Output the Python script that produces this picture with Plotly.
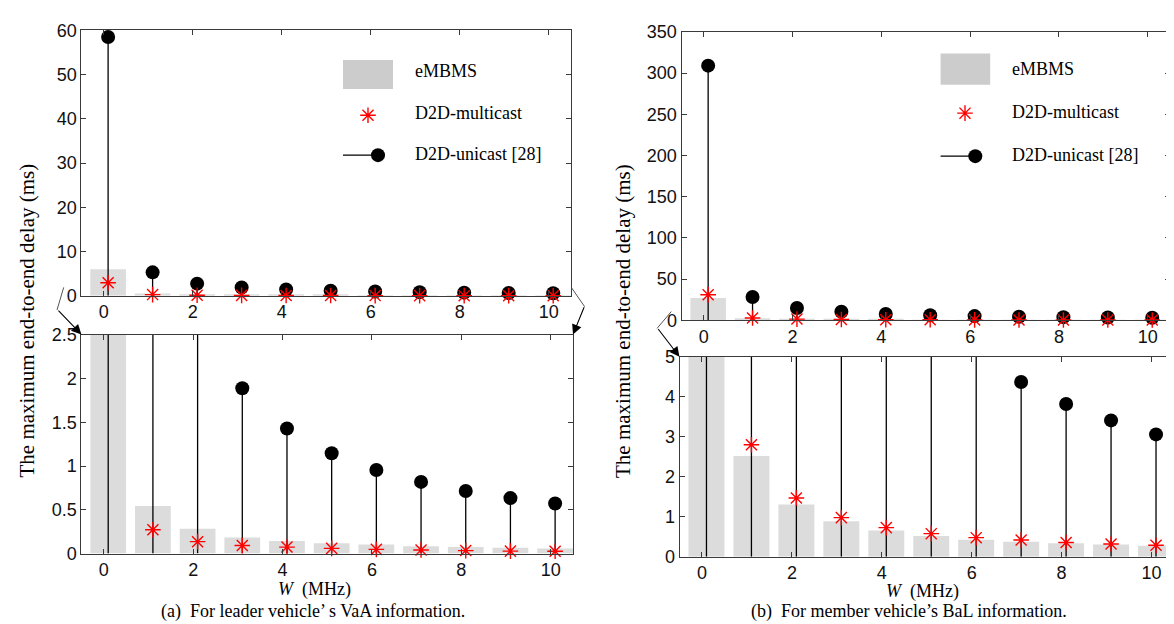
import plotly.graph_objects as go

# ---------------- data ----------------
W = [0.1, 1.1, 2.1, 3.1, 4.1, 5.1, 6.1, 7.1, 8.1, 9.1, 10.1]
x_ticks = [0, 2, 4, 6, 8, 10]

vaa_embms = [6.0, 0.545, 0.284, 0.184, 0.144, 0.118, 0.103, 0.085, 0.074, 0.066, 0.059]
vaa_multicast = [2.95, 0.273, 0.136, 0.092, 0.074, 0.059, 0.048, 0.041, 0.034, 0.028, 0.027]
vaa_unicast = [58.5, 5.3, 2.75, 1.89, 1.43, 1.147, 0.955, 0.819, 0.715, 0.634, 0.572]

bal_embms = [27.0, 2.52, 1.31, 0.89, 0.66, 0.52, 0.43, 0.38, 0.34, 0.31, 0.28]
bal_multicast = [30.9, 2.80, 1.47, 0.98, 0.73, 0.58, 0.48, 0.42, 0.36, 0.32, 0.29]
bal_unicast = [309.0, 28.2, 15.0, 10.3, 7.6, 6.1, 5.1, 4.37, 3.82, 3.41, 3.06]

series_names = ["eMBMS", "D2D-multicast", "D2D-unicast [28]"]
y_title = "The maximum end-to-end delay (ms)"
x_title = "<i>W</i>  (MHz)"
captions = ["(a)  For leader vehicle’ s VaA information.",
            "(b)  For member vehicle’s BaL information."]

# ---------------- style ----------------
FW, FH = 1174, 624
BAR_COLOR = "#dcdcdc"
LEG_PATCH = "#cccccc"
AXIS_COLOR = "#3a3a3a"
TICK_FONT = dict(family="Liberation Sans, Arial, sans-serif", size=18, color="#111")
SERIF = "Liberation Serif, Times New Roman, serif"


def px(xp):
    return xp / FW


def py(yp):
    return 1 - yp / FH


fig = go.Figure()

# panels: (xaxis id, yaxis id, data, y range, y dtick)
panels = [
    ("x", "y", (vaa_embms, vaa_multicast, vaa_unicast), [0, 60], 10),
    ("x2", "y2", (vaa_embms, vaa_multicast, vaa_unicast), [0, 2.5], 0.5),
    ("x3", "y3", (bal_embms, bal_multicast, bal_unicast), [0, 350], 50),
    ("x4", "y4", (bal_embms, bal_multicast, bal_unicast), [0, 5], 1),
]

for xa, ya, (emb, mul, uni), yr, dt in panels:
    fig.add_trace(go.Bar(x=W, y=emb, width=0.8, marker=dict(color=BAR_COLOR, line=dict(width=0)),
                         xaxis=xa, yaxis=ya, showlegend=False, name=series_names[0]))
    # stems for D2D-unicast
    sx, sy = [], []
    for xv, yv in zip(W, uni):
        sx += [xv, xv, None]
        sy += [0, yv, None]
    fig.add_trace(go.Scatter(x=sx, y=sy, mode="lines", line=dict(color="black", width=1.3),
                             xaxis=xa, yaxis=ya, showlegend=False, hoverinfo="skip"))
    fig.add_trace(go.Scatter(x=W, y=uni, mode="markers", cliponaxis=False,
                             marker=dict(color="black", size=14, line=dict(width=0)),
                             xaxis=xa, yaxis=ya, showlegend=False, name=series_names[2]))
    fig.add_trace(go.Scatter(x=W, y=mul, mode="markers", cliponaxis=False,
                             marker=dict(symbol="asterisk-open", size=13, color="red",
                                         line=dict(color="red", width=1.4)),
                             xaxis=xa, yaxis=ya, showlegend=False, name=series_names[1]))

# axis domains (in pixels)
doms = [
    ("", (73.4, 563.0), (12.7, 287.0)),
    ("2", (73.4, 565.0), (327.3, 553.3)),
    ("3", (673.5, 1162.0), (14.3, 312.3)),
    ("4", (671.5, 1166.0), (350.0, 556.7)),
]
layout = {}
for (k, (x0, x1), (y0, y1)), (_, _, _, yr, dt) in zip(doms, panels):
    common = dict(showline=True, linecolor=AXIS_COLOR, linewidth=1, mirror="ticks",
                  ticks="inside", ticklen=5, tickcolor=AXIS_COLOR, tickfont=TICK_FONT,
                  showgrid=False, zeroline=False, fixedrange=True)
    layout["xaxis" + k] = dict(domain=[px(x0), px(x1)], anchor="y" + k, range=[-0.5, 10.5],
                               tickvals=x_ticks, ticklabelstandoff=0, **common)
    layout["yaxis" + k] = dict(domain=[py(y1), py(y0)], anchor="x" + k, range=yr, dtick=dt,
                               tick0=0, **common)

# overlay pixel axis for legend glyphs
layout["xaxis5"] = dict(domain=[0, 1], range=[0, FW], visible=False, fixedrange=True, anchor="y5")
layout["yaxis5"] = dict(domain=[0, 1], range=[FH, 0], visible=False, fixedrange=True, anchor="x5")

fig.update_layout(**layout)

# legends (manual, matching MATLAB-style legend boxes)
legends = [
    dict(patch=(335, 43.3, 385, 73.3), star=(360, 100.5), line=(335, 370, 141.7),
         tx=405, ty=(55, 98, 141)),
    dict(patch=(932.6, 36.7, 982.2, 69.0), star=(957, 98.3), line=(932.6, 967.3, 142.7),
         tx=1001.5, ty=(53, 97, 142)),
]
shapes = []
annotations = []
for lg in legends:
    x0, y0, x1, y1 = lg["patch"]
    shapes.append(dict(type="rect", xref="paper", yref="paper", x0=px(x0), x1=px(x1),
                       y0=py(y1), y1=py(y0), fillcolor=LEG_PATCH, line=dict(width=0)))
    lx0, lx1, ly = lg["line"]
    shapes.append(dict(type="line", xref="paper", yref="paper", x0=px(lx0), x1=px(lx1),
                       y0=py(ly), y1=py(ly), line=dict(color="black", width=1.3)))
    fig.add_trace(go.Scatter(x=[lx1], y=[ly], mode="markers", xaxis="x5", yaxis="y5",
                             marker=dict(color="black", size=14), showlegend=False,
                             hoverinfo="skip", cliponaxis=False))
    fig.add_trace(go.Scatter(x=[lg["star"][0]], y=[lg["star"][1]], mode="markers",
                             xaxis="x5", yaxis="y5", showlegend=False, hoverinfo="skip",
                             cliponaxis=False,
                             marker=dict(symbol="asterisk-open", size=13, color="red",
                                         line=dict(color="red", width=1.4))))
    for name, ty in zip(series_names, lg["ty"]):
        annotations.append(dict(text=name, xref="paper", yref="paper", x=px(lg["tx"]), y=py(ty),
                                xanchor="left", yanchor="middle", showarrow=False,
                                font=dict(family=SERIF, size=18, color="black")))

# zoom brackets between top and bottom panels
brackets = [
    ((55.7, 278.3), (49.0, 301.7), (73.4, 327.0)),
    ((563.3, 278.3), (576.7, 298.3), (565.0, 327.0)),
    ((663.3, 303.3), (649.0, 320.7), (671.5, 350.0)),
    ((1165.0, 305.0), (1182.0, 322.0), (1166.0, 350.0)),
]
for (ax0, ay0), (bx, by), (tx, ty) in brackets:
    shapes.append(dict(type="line", xref="paper", yref="paper", x0=px(ax0), y0=py(ay0),
                       x1=px(bx), y1=py(by), line=dict(color="#555", width=1)))
    annotations.append(dict(text="", xref="paper", yref="paper", x=px(tx), y=py(ty),
                            ax=bx - tx, ay=by - ty, axref="pixel", ayref="pixel",
                            showarrow=True, arrowhead=2, arrowsize=1.8, arrowwidth=1.1,
                            arrowcolor="black"))

# axis / caption texts
for cx, cy in ((18.5, 313), (615, 313)):
    annotations.append(dict(text=y_title, xref="paper", yref="paper", x=px(cx), y=py(cy),
                            textangle=-90, showarrow=False, xanchor="center", yanchor="middle",
                            font=dict(family=SERIF, size=21, color="black")))
for cx, cy in ((306, 590), (914, 593)):
    annotations.append(dict(text=x_title, xref="paper", yref="paper", x=px(cx), y=py(cy),
                            showarrow=False, xanchor="center", yanchor="middle",
                            font=dict(family=SERIF, size=18, color="black")))
for cx, cap in zip((305, 901), captions):
    annotations.append(dict(text=cap, xref="paper", yref="paper", x=px(cx), y=py(613),
                            showarrow=False, xanchor="center", yanchor="middle",
                            font=dict(family=SERIF, size=18, color="black")))

fig.update_layout(width=FW, height=FH, margin=dict(l=0, r=0, t=0, b=0),
                  paper_bgcolor="white", plot_bgcolor="rgba(0,0,0,0)", showlegend=False,
                  barmode="overlay", shapes=shapes, annotations=annotations)

fig.write_html("out.html")
